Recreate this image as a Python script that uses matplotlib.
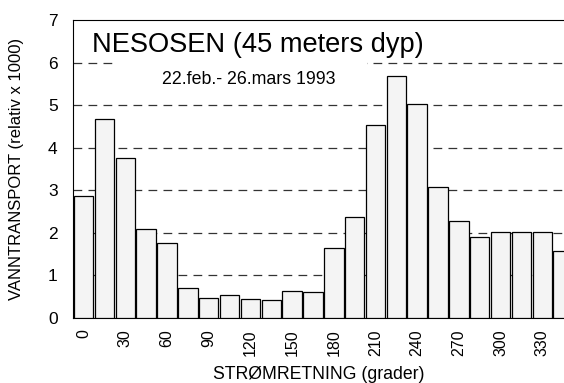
import numpy as np
import matplotlib
matplotlib.use("Agg")
import matplotlib.pyplot as plt
from matplotlib.patches import Rectangle

plt.rcParams['font.family'] = ['Liberation Sans', 'DejaVu Sans']

# current direction in degrees (15 degree sectors) and relative transport x 1000
Directions = np.arange(0, 360, 15)
Transport = [2.87, 4.67, 3.76, 2.08, 1.76, 0.70, 0.46, 0.54, 0.44, 0.42, 0.63, 0.60,
             1.65, 2.38, 4.54, 5.69, 5.03, 3.08, 2.29, 1.90, 2.01, 2.01, 2.01, 1.58]
TickDirections = np.arange(0, 360, 30)
YTicks = [0, 1, 2, 3, 4, 5, 6, 7]

Title = "NESOSEN (45 meters dyp)"
Subtitle = "22.feb.- 26.mars 1993"
XLabel = "STRØMRETNING (grader)"
YLabel = "VANNTRANSPORT (relativ x 1000)"

Fig = plt.figure(figsize=(5.64, 3.83), dpi=100)
Ax = Fig.add_axes([73 / 564, 65 / 383, 491 / 564, 298 / 383])

Ax.bar(Directions, Transport, width=14, color="#f4f4f4", edgecolor="black",
       linewidth=0.9, zorder=3)

Ax.set_xlim(-7.6, 345.6)
Ax.set_ylim(0, 7)
Ax.set_yticks(YTicks)
Ax.set_xticks(TickDirections)
Ax.set_xticklabels([str(d) for d in TickDirections], rotation=90, va="top")

for Y in YTicks[1:-1]:
    Ax.axhline(Y, color="#333333", linestyle=(0, (7, 5)), linewidth=0.9, zorder=1)

# white box behind the subtitle hides part of the top gridline
Ax.add_patch(Rectangle((0.0815, 0.75), 0.518, 0.13, transform=Ax.transAxes,
                       facecolor="white", edgecolor="none", zorder=2))

Ax.spines["right"].set_visible(False)
Ax.tick_params(axis="y", length=0, pad=11, labelsize=12.5)
Ax.tick_params(axis="x", length=0, pad=8, labelsize=11.5)

Ax.text(0.039, 0.893, Title, transform=Ax.transAxes, fontsize=19.6,
        ha="left", va="baseline", zorder=4)
Ax.text(0.181, 0.785, Subtitle, transform=Ax.transAxes, fontsize=12.8,
        ha="left", va="baseline", zorder=4)

Ax.set_xlabel(XLabel, fontsize=12.7, labelpad=7)
Ax.set_ylabel(YLabel, fontsize=12, labelpad=17)

Fig.savefig("out.png", dpi=100)
